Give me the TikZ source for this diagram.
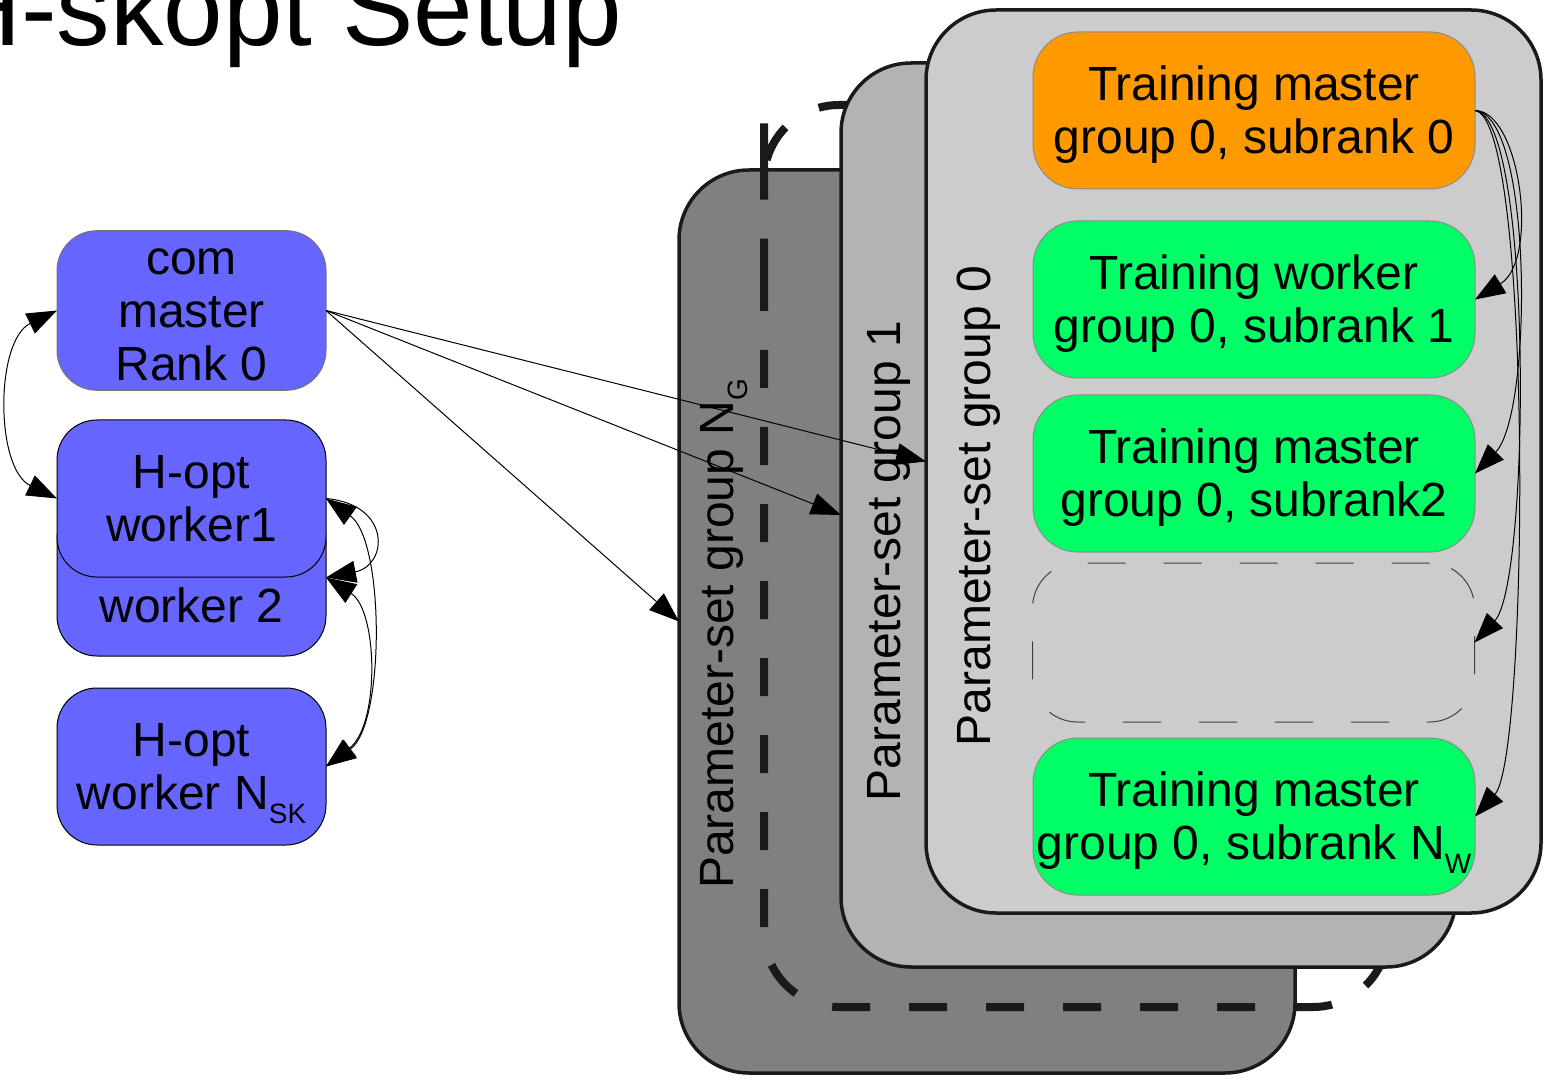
\documentclass[tikz,border=0pt]{standalone}
\usepackage{fontspec}
\setmainfont{Liberation Sans}
\usetikzlibrary{arrows.meta}
\definecolor{hoptblue}{HTML}{6666FF}
\definecolor{taskorange}{HTML}{FF9900}
\definecolor{taskgreen}{HTML}{00FF66}
\definecolor{grplight}{HTML}{CCCCCC}
\definecolor{grpmid}{HTML}{B3B3B3}
\definecolor{grpdark}{HTML}{808080}
\definecolor{rim}{HTML}{1A1A1A}
% small lowered index, as in N_G, N_W, N_SK (no effect on line height)
\newcommand{\lowidx}[1]{\raisebox{-7pt}[0pt][0pt]{\fontsize{14}{16}\selectfont #1}}
% line struts (24pt text) so that multi-line labels sit like office text boxes
\newcommand{\topstrut}{\rule{0pt}{21.7pt}}
\newcommand{\botstrut}{\rule[-5.1pt]{0pt}{5.1pt}}
\begin{document}
\begin{tikzpicture}[x=0.5pt,y=-0.5pt,
  every node/.style={font=\fontsize{24}{27.5}\selectfont, inner sep=0pt, outer sep=0pt},
  grp/.style={draw=rim, line width=1.75pt, rounded corners=35pt,
    minimum width=307.5pt, minimum height=451.5pt},
  grplabel/.style={rotate=90},
  task/.style={draw=black!45, line width=0.5pt, rounded corners=22.5pt,
    minimum width=221pt, minimum height=78.5pt, align=center,
    font=\fontsize{24}{26.2}\selectfont},
  hopt/.style={fill=hoptblue, draw=black, line width=0.5pt, rounded corners=20pt,
    minimum width=134.5pt, minimum height=78.5pt, align=center,
    font=\fontsize{24}{26.5}\selectfont},
  bigdash/.style={draw=rim, line width=4pt, rounded corners=37.5pt,
    dash pattern=on 19pt off 19.5pt},
  link/.style={line width=0.5pt, -{Triangle[length=15pt,width=11pt]}},
  link2/.style={line width=0.5pt,
    {Triangle[length=15pt,width=11pt]}-{Triangle[length=15pt,width=11pt]}},
]
\useasboundingbox (0,0) rectangle (1547,1080);
\clip (0,0) rectangle (1547,1080);

% title
\node[anchor=base east, font=\fontsize{53.5}{60}\selectfont] (title) at (622,46) {H-skopt Setup};

% stacked parameter-set groups
\node[grp, fill=grpdark, minimum width=308pt] (gN) at (987,621.5) {};
\node[grplabel] (lN) at (722,634) {Parameter-set group N\lowidx{G}};
\draw[bigdash] (764,198) -- (764,1007) -- (1388,1007) -- (1388,105) -- (764,105) -- cycle;
\node[grp, fill=grpmid, minimum height=452pt] (g1) at (1148.5,515) {};
\node[grplabel] (l1) at (889,561) {Parameter-set group 1};
\node[grp, fill=grplight] (g0) at (1233.5,461.5) {};
\node[grplabel] (l0) at (979,506) {Parameter-set group 0};

% training processes of group 0
\node[task, fill=taskorange] (t0) at (1254,110.5)
  {\topstrut Training master\\group 0, subrank 0\botstrut};
\node[task, fill=taskgreen] (t1) at (1254,299.5)
  {\topstrut Training worker\\group 0, subrank 1\botstrut};
\node[task, fill=taskgreen] (t2) at (1254,473.5)
  {\topstrut Training master\\group 0, subrank2\botstrut};
\node[task, draw=black!75, dash pattern=on 19pt off 19pt, minimum height=79.5pt] (tdots) at (1253.5,642.5) {};
\node[task, fill=taskgreen] (tN) at (1254,816.5)
  {\topstrut Training master\\group 0, subrank N\lowidx{W}\botstrut};

% hyper-parameter optimisation processes
\node[hopt, draw=black!55] (cm) at (191.5,310.5) {\topstrut com\\master\\Rank 0\botstrut};
\node[hopt] (w2) at (191.5,577.5) {};
\node (w2t) at (191.5,605) {worker 2};
\node[hopt] (w1) at (191.5,498.5) {\topstrut H-opt\\worker1\botstrut};
\node[hopt] (wn) at (191.5,766.5) {\topstrut H-opt\\worker N\lowidx{SK}\botstrut};

% communication
\draw[link2] (cm.west) .. controls +(-62,30) and +(-62,-30) .. (w1.west);
\draw[link] (cm.east) -- (gN.west);
\draw[link] (cm.east) -- (g1.west);
\draw[link] (cm.east) -- (g0.west);
\draw[link2] (w1.east) .. controls +(59,42) and +(59,-42) .. (wn.east);
\draw[link2] (w2.east) .. controls +(52,33) and +(54,-42) .. (wn.east);
\draw[link] (w1.east) .. controls +(66,6) and +(62,-12) .. (w2.east);

\draw[link] (t0.east) .. controls +(45,0) and +(65,-40) .. (t1.east);
\draw[link] (t0.east) .. controls +(58,4) and +(58,-60) .. (t2.east);
\draw[link] (t0.east) .. controls +(58,6) and +(56,-60) .. (tdots.east);
\draw[link] (t0.east) .. controls +(58,8) and +(54,-60) .. (tN.east);
\end{tikzpicture}
\end{document}
